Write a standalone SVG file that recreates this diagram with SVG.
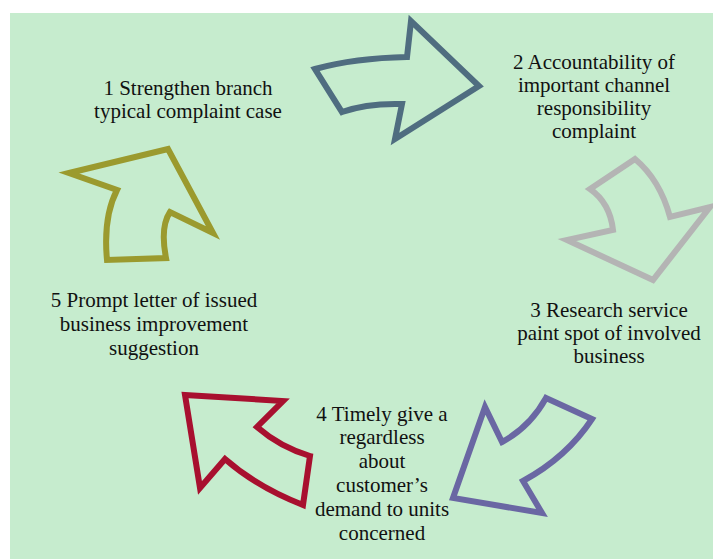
<svg xmlns="http://www.w3.org/2000/svg" width="713" height="559" viewBox="0 0 713 559">
<style>
.arr{fill:none;stroke-width:6;stroke-linejoin:miter;stroke-miterlimit:10}
.t{font-family:"Liberation Serif","Times New Roman",serif;font-size:21px;fill:#111;text-anchor:middle}
</style>
<rect x="0" y="0" width="713" height="559" fill="#ffffff"/>
<rect x="10" y="13" width="703" height="546" fill="#c6ecce"/>
<g id="connectors">
<path id="arrow1" class="arr" stroke="#4f6d80" d="M315,69 Q355,58 407,57 L411,21 L479,86 L395,139 L402,104 Q367,103 342,112 Z"/>
<path id="arrow2" class="arr" stroke="#b4b4b4" d="M635,159 Q660,180 670,217 L710,207 L653,280 L567,240 L613,230 Q610,203 590,189 Z"/>
<path id="arrow3" class="arr" stroke="#6a67a3" d="M546,398 L592,419 Q567,457 523,481 L542,513 L453,498 L485,407 L502,442 Q530,427 546,398 Z"/>
<path id="arrow4" class="arr" stroke="#a8102f" d="M185,395 L283,401 L257,427 Q280,447 310,456 L303,505 Q257,487 225,459 L200,488 Z"/>
<path id="arrow5" class="arr" stroke="#9b9a2e" d="M69,173 L168,149 L213,233 L170,212 Q160,227 166,258 L107,260 Q103,217 117,190 Z"/>
</g>
<g id="node1">
<text class="t" x="188" y="95">1 Strengthen branch</text>
<text class="t" x="188" y="118">typical complaint case</text>
</g>
<g id="node2">
<text class="t" x="594" y="69">2 Accountability of</text>
<text class="t" x="594" y="92">important channel</text>
<text class="t" x="594" y="115">responsibility</text>
<text class="t" x="594" y="138">complaint</text>
</g>
<g id="node3">
<text class="t" x="609" y="317">3 Research service</text>
<text class="t" x="609" y="340">paint spot of involved</text>
<text class="t" x="609" y="363">business</text>
</g>
<g id="node4">
<text class="t" x="382" y="421">4 Timely give a</text>
<text class="t" x="382" y="444">regardless</text>
<text class="t" x="382" y="468">about</text>
<text class="t" x="382" y="492">customer’s</text>
<text class="t" x="382" y="516">demand to units</text>
<text class="t" x="382" y="540">concerned</text>
</g>
<g id="node5">
<text class="t" x="154" y="307">5 Prompt letter of issued</text>
<text class="t" x="154" y="331">business improvement</text>
<text class="t" x="154" y="355">suggestion</text>
</g>
</svg>
